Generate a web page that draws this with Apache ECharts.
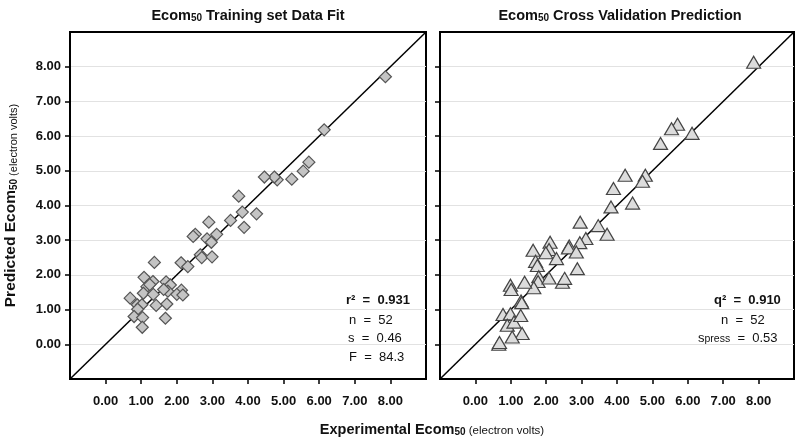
<!DOCTYPE html>
<html><head><meta charset="utf-8">
<script src="https://cdn.jsdelivr.net/npm/echarts@6/dist/echarts.min.js"></script>
<style>html,body{margin:0;padding:0;background:#fff}#c{width:800px;height:441px}</style>
</head><body><div id="c"></div><script>
// ---- data ----
const tickValues = [0, 1, 2, 3, 4, 5, 6, 7, 8];
const axisMin = -1, axisMax = 9;
const identityLine = [-1, 9];
const trainX = [7.86,6.14,5.71,5.55,5.23,4.82,4.74,4.46,3.74,3.84,4.24,3.51,3.89,2.90,2.52,2.46,3.12,2.85,2.97,2.66,2.70,2.99,2.12,2.31,1.37,1.08,1.33,1.16,1.06,1.34,1.70,1.82,1.75,2.13,2.00,2.17,0.69,0.89,1.02,1.42,1.72,0.90,0.80,1.04,1.68,1.03,1.63,1.24];
const trainY = [7.71,6.18,5.25,4.99,4.76,4.74,4.82,4.82,4.27,3.81,3.76,3.57,3.37,3.52,3.17,3.11,3.17,3.04,2.94,2.58,2.50,2.52,2.35,2.24,2.36,1.93,1.81,1.66,1.47,1.44,1.80,1.71,1.53,1.56,1.44,1.42,1.33,1.14,1.14,1.12,1.16,1.01,0.80,0.77,0.75,0.49,1.58,1.72];
const cvX = [7.86,6.12,5.71,5.54,5.23,4.80,4.72,4.23,3.90,4.44,3.83,2.96,3.47,3.72,3.12,2.95,2.65,2.63,2.85,2.88,2.11,2.08,1.99,2.29,1.63,1.70,1.75,1.79,1.77,1.65,1.39,2.08,2.46,2.52,0.99,1.01,1.29,1.31,0.78,0.99,0.90,1.09,1.28,1.32,1.04,0.66,0.68];
const cvY = [8.13,6.08,6.34,6.21,5.79,4.87,4.70,4.87,4.49,4.07,3.96,3.52,3.42,3.17,3.05,2.93,2.83,2.78,2.66,2.18,2.94,2.73,2.64,2.47,2.71,2.39,2.27,1.95,1.81,1.63,1.79,1.91,1.79,1.90,1.70,1.58,1.25,1.20,0.86,0.88,0.55,0.64,0.83,0.31,0.21,0.00,0.05];
const panelTitles = [' Training set Data Fit', ' Cross Validation Prediction'];
const statsLeft = [['r²', '', '0.931'], ['n', '', '52'], ['s', '', '0.46'], ['F', '', '84.3']];
const statsRight = [['q²', '', '0.910'], ['n', '', '52'], ['s', 'press', '0.53']];

// ---- chart ----
const FF = 'Liberation Sans, Arial, sans-serif';
const chart = echarts.init(document.getElementById('c'), null, {renderer: 'canvas'});
const grids = [
  {left: 70, top: 32, width: 356, height: 347, show: true, borderColor: '#000', borderWidth: 2},
  {left: 440, top: 32, width: 354, height: 347, show: true, borderColor: '#000', borderWidth: 2}
];
function xAx(gi) {
  return {type: 'value', gridIndex: gi, min: axisMin, max: axisMax, interval: 1,
    axisLine: {show: true, onZero: false, lineStyle: {color: '#000', width: 2}},
    axisTick: {show: true, inside: false, length: 5, customValues: tickValues, lineStyle: {color: '#000', width: 1.5}},
    axisLabel: {show: true, customValues: tickValues, margin: 16, fontFamily: FF, fontSize: 13, fontWeight: 'bold', color: '#111',
      formatter: v => (v < 0 || v > 8) ? '' : v.toFixed(2)},
    splitLine: {show: false}};
}
function yAx(gi, labels) {
  const a = {type: 'value', gridIndex: gi, min: axisMin, max: axisMax, interval: 1,
    axisLine: {show: true, onZero: false, lineStyle: {color: '#000', width: 2}},
    axisTick: {show: true, inside: false, length: 5, customValues: tickValues, lineStyle: {color: '#000', width: 1.5}},
    axisLabel: {show: labels, customValues: tickValues, margin: 9, fontFamily: FF, fontSize: 13, fontWeight: 'bold', color: '#111',
      formatter: v => (v < 0 || v > 8) ? '' : v.toFixed(2)},
    splitLine: {show: true, lineStyle: {color: '#e2e2e2', width: 1}}};
  if (labels) {
    a.name = '{b|Predicted Ecom}{s|50}{r| (electron volts)}';
    a.nameLocation = 'middle';
    a.nameRotate = 90;
    a.nameGap = 51;
    a.nameTextStyle = {rich: {
      b: {fontFamily: FF, fontSize: 15.5, fontWeight: 'bold', color: '#111', lineHeight: 18, verticalAlign: 'bottom'},
      s: {fontFamily: FF, fontSize: 10, fontWeight: 'bold', color: '#111', lineHeight: 18, verticalAlign: 'bottom'},
      r: {fontFamily: FF, fontSize: 11, color: '#111', lineHeight: 18, verticalAlign: 'bottom'}
    }};
  }
  return a;
}
const richTitle = {
  b: {fontFamily: FF, fontSize: 14.5, fontWeight: 'bold', fill: '#111', lineHeight: 18, verticalAlign: 'bottom'},
  s: {fontFamily: FF, fontSize: 10, fontWeight: 'bold', fill: '#111', lineHeight: 18, verticalAlign: 'bottom'},
  r: {fontFamily: FF, fontSize: 11.5, fill: '#111', lineHeight: 18, verticalAlign: 'bottom'}
};
const richStat = {
  t: {fontFamily: FF, fontSize: 13, fill: '#111', lineHeight: 16, verticalAlign: 'bottom'},
  tb: {fontFamily: FF, fontSize: 13, fontWeight: 'bold', fill: '#111', lineHeight: 16, verticalAlign: 'bottom'},
  sub: {fontFamily: FF, fontSize: 10.5, fill: '#111', lineHeight: 13, verticalAlign: 'bottom'}
};
function statText(row, bold) {
  const k = bold ? 'tb' : 't';
  if (row[1]) return `{${k}|${row[0]}}{sub|${row[1]}}{${k}|  =  ${row[2]}}`;
  return `{${k}|${row[0]}  =  ${row[2]}}`;
}
const graphics = [];
const titleCenters = [248, 620];
panelTitles.forEach((t, i) => {
  graphics.push({type: 'text', x: titleCenters[i], y: 14, style: {
    text: '{b|Ecom}{s|50}{b|' + t + '}', align: 'center', verticalAlign: 'middle', rich: richTitle}});
});
graphics.push({type: 'text', x: 432, y: 428, style: {
  text: '{b|Experimental Ecom}{s|50}{r| (electron volts)}', align: 'center', verticalAlign: 'middle', rich: richTitle}});
const leftStatX = [346, 349, 348, 349], leftStatY = [299, 319, 337, 356];
statsLeft.forEach((r, i) => graphics.push({type: 'text', x: leftStatX[i], y: leftStatY[i],
  style: {text: statText(r, i === 0), align: 'left', verticalAlign: 'middle', rich: richStat}}));
const rightStatX = [714, 721, 698], rightStatY = [299, 319, 337];
statsRight.forEach((r, i) => graphics.push({type: 'text', x: rightStatX[i], y: rightStatY[i],
  style: {text: statText(r, i === 0), align: 'left', verticalAlign: 'middle', rich: richStat}}));

chart.setOption({
  animation: false,
  backgroundColor: '#fff',
  grid: grids,
  xAxis: [xAx(0), xAx(1)],
  yAxis: [yAx(0, true), yAx(1, false)],
  graphic: graphics,
  series: [
    {type: 'line', xAxisIndex: 0, yAxisIndex: 0, data: identityLine.map(v => [v, v]), symbol: 'none', z: 1,
      lineStyle: {color: '#000', width: 1.5}},
    {type: 'line', xAxisIndex: 1, yAxisIndex: 1, data: identityLine.map(v => [v, v]), symbol: 'none', z: 1,
      lineStyle: {color: '#000', width: 1.5}},
    {type: 'scatter', xAxisIndex: 0, yAxisIndex: 0, symbol: 'diamond', symbolSize: 12, z: 3,
      data: trainX.map((x, i) => [x, trainY[i]]),
      itemStyle: {color: '#c4c4c4', borderColor: '#555', borderWidth: 1.2, opacity: 1}},
    {type: 'scatter', xAxisIndex: 1, yAxisIndex: 1, symbol: 'triangle', symbolSize: [14, 12], z: 3,
      data: cvX.map((x, i) => [x, cvY[i]]),
      itemStyle: {color: '#dcdcdc', borderColor: '#444', borderWidth: 1.2, opacity: 1}}
  ]
});
</script></body></html>
